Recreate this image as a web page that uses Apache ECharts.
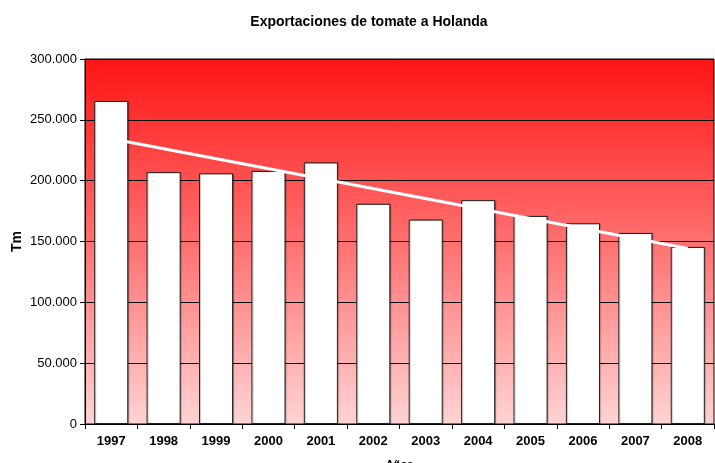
<!DOCTYPE html>
<html lang="es">
<head>
    <meta charset="UTF-8">
    <title>Exportaciones de tomate a Holanda</title>
    <script src="https://cdn.jsdelivr.net/npm/echarts@6/dist/echarts.min.js"></script>
    <style>
        html, body { margin: 0; padding: 0; background: #fff; }
        #main { width: 715px; height: 463px; }
    </style>
</head>
<body>
	<div id="main"></div>
	<script>
	    // datos (Tm)
	    var years = ['1997', '1998', '1999', '2000', '2001', '2002', '2003', '2004', '2005', '2006', '2007', '2008'];
	    var tonnes = [265500, 207000, 206000, 208000, 215000, 181000, 168000, 184000, 171000, 165000, 157000, 145500];
	    // linea de tendencia: valor al inicio (1997) y al final (2008)
	    var trendEnds = [234500, 144200];

	    var trend = years.map(function (y, i) {
	        if (i === 0) return trendEnds[0];
	        if (i === years.length - 1) return trendEnds[1];
	        return null;
	    });

	    function miles(v) {
	        return String(v).replace(/\B(?=(\d{3})+(?!\d))/g, '.');
	    }

	    var myChart = echarts.init(document.getElementById('main'));
	    var option = {
	        animation: false,
	        title: {
	            text: 'Exportaciones de tomate a Holanda',
	            left: 364,
	            top: 10,
	            textAlign: 'center',
	            textStyle: { fontFamily: 'Liberation Sans', fontSize: 14, fontWeight: 'bold', color: '#000' }
	        },
	        grid: {
	            left: 85,
	            right: 1,
	            top: 59,
	            bottom: 39,
	            containLabel: false,
	            outerBoundsMode: 'none',
	            show: true,
	            borderColor: '#000',
	            borderWidth: 1,
	            backgroundColor: {
	                type: 'linear', x: 0, y: 0, x2: 0, y2: 1,
	                colorStops: [
	                    { offset: 0, color: '#ff1414' },
	                    { offset: 0.5, color: '#ff7070' },
	                    { offset: 1, color: '#ffd4d4' }
	                ]
	            }
	        },
	        xAxis: {
	            type: 'category',
	            data: years,
	            name: 'Años',
	            nameLocation: 'middle',
	            nameGap: 35,
	            nameMoveOverlap: false,
	            nameTextStyle: { fontFamily: 'Liberation Sans', fontSize: 11, fontWeight: 'bold', color: '#000' },
	            axisLine: { lineStyle: { color: '#000', width: 1 } },
	            axisTick: { show: true, length: 5, lineStyle: { color: '#000' } },
	            axisLabel: { fontFamily: 'Liberation Sans', fontSize: 13, fontWeight: 'bold', color: '#000', margin: 11 }
	        },
	        yAxis: {
	            type: 'value',
	            min: 0,
	            max: 300000,
	            interval: 50000,
	            name: 'Tm',
	            nameLocation: 'middle',
	            nameGap: 61,
	            nameMoveOverlap: false,
	            nameTextStyle: { fontFamily: 'Liberation Sans', fontSize: 14, fontWeight: 'bold', color: '#000' },
	            axisLine: { show: true, lineStyle: { color: '#000', width: 1 } },
	            axisTick: { show: true, length: 5, lineStyle: { color: '#000' } },
	            splitLine: { lineStyle: { color: '#000', width: 1 } },
	            axisLabel: {
	                fontFamily: 'Liberation Sans', fontSize: 13, color: '#000', margin: 8,
	                formatter: function (v) { return miles(v); }
	            }
	        },
	        series: [
	            {
	                name: 'Tm',
	                type: 'bar',
	                data: tonnes,
	                barCategoryGap: '35%',
	                itemStyle: {
	                    color: '#fff',
	                    borderColor: '#222',
	                    borderWidth: 1,
	                    shadowColor: 'rgba(0,0,0,0.25)',
	                    shadowOffsetX: 1,
	                    shadowOffsetY: 0,
	                    shadowBlur: 1
	                }
	            },
	            {
	                name: 'Tendencia',
	                type: 'line',
	                data: trend,
	                connectNulls: true,
	                symbol: 'none',
	                z: 5,
	                lineStyle: { color: '#fff', width: 3 }
	            }
	        ]
	    };
	    myChart.setOption(option);
	</script>
</body>
</html>
